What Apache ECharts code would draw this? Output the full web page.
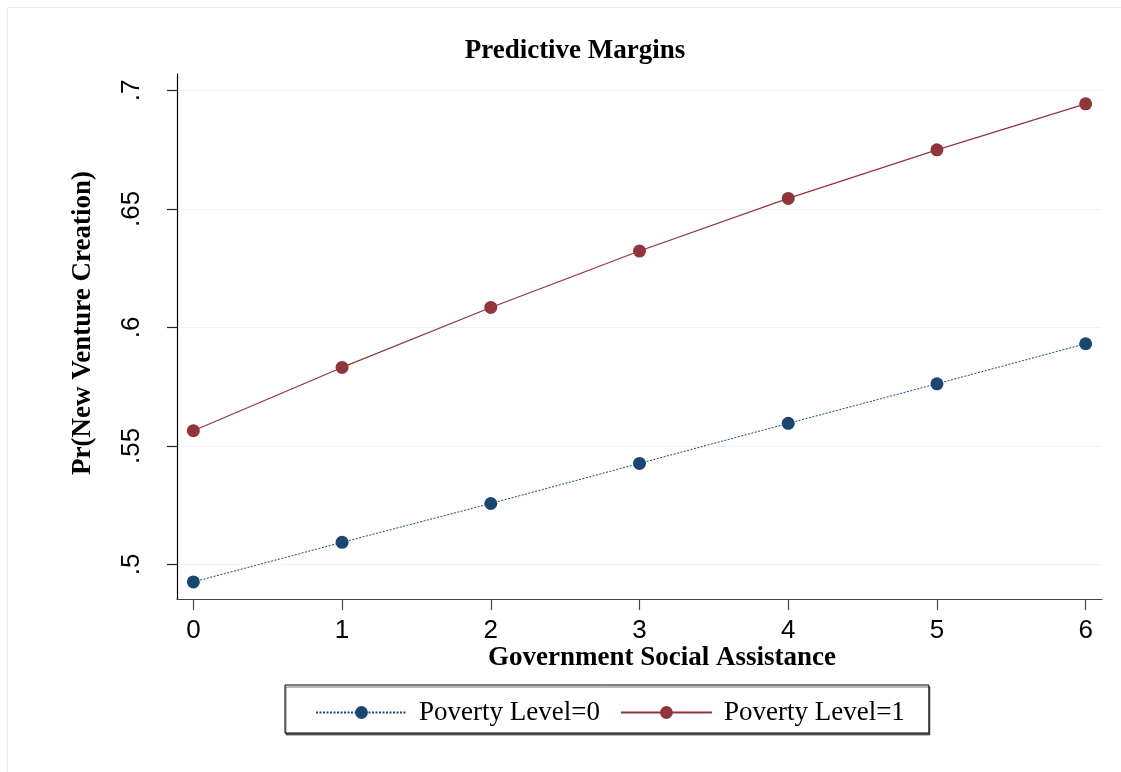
<!DOCTYPE html>
<html>
<head>
<meta charset="utf-8">
<title>Predictive Margins</title>
<script src="https://cdn.jsdelivr.net/npm/echarts@6/dist/echarts.min.js"></script>
<style>
  html, body { margin: 0; padding: 0; background: #fff; }
  #chart { width: 1121px; height: 772px; }
</style>
</head>
<body>
<div id="chart"></div>
<script>
// Government social assistance levels (x) and predicted probabilities by poverty level
const assistance = [0, 1, 2, 3, 4, 5, 6];
const povertyLevel0 = [0.4926, 0.5093, 0.5257, 0.5426, 0.5595, 0.5762, 0.5931];
const povertyLevel1 = [0.5564, 0.5831, 0.6084, 0.6322, 0.6544, 0.6749, 0.6943];
const yTickValues = [0.5, 0.55, 0.6, 0.65, 0.7];
const yTickLabels = ['.5', '.55', '.6', '.65', '.7'];
const seriesNames = ['Poverty Level=0', 'Poverty Level=1'];

const serif = '"Liberation Serif", "Times New Roman", serif';
const sans = '"Liberation Sans", Arial, sans-serif';

const chart = echarts.init(document.getElementById('chart'), null, { renderer: 'canvas' });

const pairs = (ys) => assistance.map((x, i) => [x, ys[i]]);

chart.setOption({
  backgroundColor: '#ffffff',
  animation: false,
  title: {
    text: 'Predictive Margins',
    left: 570,
    top: 33,
    textAlign: 'center',
    textStyle: { fontFamily: serif, fontWeight: 'bold', fontSize: 27, color: '#000' }
  },
  grid: { left: 177, top: 74, right: 19, bottom: 173, containLabel: false },
  xAxis: {
    type: 'value',
    min: -0.11,
    max: 6.11,
    axisLine: { show: true, onZero: false, lineStyle: { color: '#444', width: 1.2 } },
    axisTick: {
      show: true, length: 11, inside: false,
      customValues: assistance,
      lineStyle: { color: '#444', width: 1.2 }
    },
    axisLabel: {
      customValues: assistance,
      margin: 19,
      fontFamily: sans, fontSize: 26, color: '#000'
    },
    splitLine: { show: false }
  },
  yAxis: {
    type: 'value',
    min: 0.4854,
    max: 0.7069,
    axisLine: { show: true, onZero: false, lineStyle: { color: '#000', width: 1.2 } },
    axisTick: {
      show: true, length: 10, inside: false,
      customValues: yTickValues,
      lineStyle: { color: '#222', width: 1.2 }
    },
    axisLabel: {
      customValues: yTickValues,
      rotate: 90,
      margin: 32,
      fontFamily: sans, fontSize: 26, color: '#000',
      formatter: (v) => yTickLabels[yTickValues.findIndex(t => Math.abs(t - v) < 1e-9)]
    },
    splitLine: { show: true, lineStyle: { color: '#eaf2f3', width: 1 } }
  },
  legend: {
    left: 285,
    top: 685,
    orient: 'horizontal',
    backgroundColor: '#ffffff',
    borderColor: '#000',
    borderWidth: 1,
    borderRadius: 0,
    shadowColor: 'rgba(0,0,0,0.55)',
    shadowBlur: 0,
    shadowOffsetX: 1,
    shadowOffsetY: 2,
    padding: [14, 24, 7, 30],
    itemWidth: 91,
    itemHeight: 16,
    itemGap: 20,
    textStyle: { fontFamily: serif, fontSize: 27, color: '#000', padding: [0, 0, 0, 7] },
    data: seriesNames
  },
  graphic: [
    {
      type: 'text',
      x: 83,
      y: 323,
      rotation: Math.PI / 2,
      style: {
        text: 'Pr(New Venture Creation)',
        font: 'bold 27px ' + serif,
        fill: '#000',
        align: 'center',
        verticalAlign: 'middle'
      }
    },
    {
      type: 'text',
      x: 662,
      y: 658,
      style: {
        text: 'Government Social Assistance',
        font: 'bold 27px ' + serif,
        fill: '#000',
        align: 'center',
        verticalAlign: 'middle'
      }
    },
    {
      type: 'polyline',
      shape: { points: [[7.5, 772], [7.5, 7.5], [1121, 7.5]] },
      style: { stroke: '#e6eeee', lineWidth: 1, fill: null },
      silent: true
    }
  ],
  series: [
    {
      name: seriesNames[0],
      type: 'line',
      data: pairs(povertyLevel0),
      symbol: 'circle',
      symbolSize: 13,
      itemStyle: { color: '#1a476f' },
      lineStyle: { color: '#1a476f', width: 1, type: [2, 1.5] },
      z: 3
    },
    {
      name: seriesNames[1],
      type: 'line',
      data: pairs(povertyLevel1),
      symbol: 'circle',
      symbolSize: 13,
      itemStyle: { color: '#90353b' },
      lineStyle: { color: '#90353b', width: 1.2, type: 'solid' },
      z: 3
    }
  ]
});
</script>
</body>
</html>
